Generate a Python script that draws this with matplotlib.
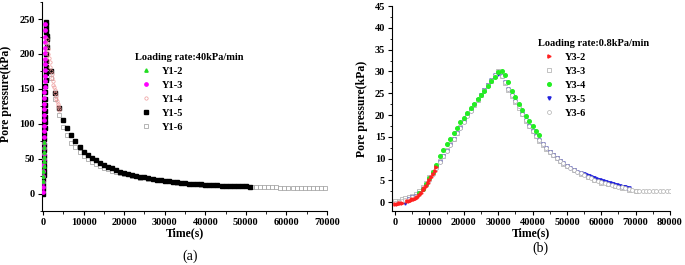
import matplotlib
matplotlib.use("Agg")
import matplotlib.pyplot as plt
import matplotlib.ticker as ticker

plt.rcParams["font.family"] = ["Liberation Serif", "DejaVu Serif"]
plt.rcParams["font.weight"] = "bold"

# ---------------- panel (a): loading rate 40 kPa/min ----------------
y12_t = [40, 70, 100, 130, 160, 190, 220, 250, 280]
y12_p = [18, 25, 32, 39, 46, 53, 60, 67, 74]

y13_t = [0, 20, 40, 60, 80, 100, 120, 140, 160, 180, 200, 220, 240, 260, 280, 300,
         320, 340, 360, 380, 400, 420, 440, 460, 480, 500, 520, 540, 560, 580, 600]
y13_p = [2, 9, 17, 25, 33, 41, 49, 57, 65, 73, 81, 89, 97, 105, 113, 121,
         129, 137, 145, 153, 161, 169, 177, 185, 193, 201, 209, 217, 225, 234, 243]

y14_t = [900, 1050, 1200, 1350, 1500, 1650, 1800, 1950, 2100, 2250, 2400, 2550,
         2700, 2850, 3000, 3150, 3300, 3450, 3600, 3750, 3900, 4050]
y14_p = [222, 214, 207, 200, 194, 188, 182, 176, 171, 166, 161, 156,
         152, 148, 144, 140, 136, 132, 129, 126, 123, 120]

y15_t = [0, 30, 60, 90, 120, 150, 180, 210, 240, 270, 300, 330, 360, 390, 420, 450,
         480, 510, 540, 570, 600, 630, 660, 690, 720, 800, 900,
         2000, 3000, 4000, 5000, 6000, 7000, 8000, 9000, 10000, 11000, 12000, 13000,
         14000, 15000, 16000, 17000, 18000, 19000, 20000, 21000, 22000, 23000, 24000,
         25000, 26000, 27000, 28000, 29000, 30000, 31000, 32000, 33000, 34000, 35000,
         36000, 37000, 38000, 39000, 40000, 41000, 42000, 43000, 44000, 45000, 46000,
         47000, 48000, 49000, 50000, 51000]
y15_p = [0, 6, 12, 19, 26, 33, 40, 47, 54, 62, 70, 78, 86, 94, 102, 110,
         118, 127, 136, 145, 154, 163, 172, 181, 190, 200, 210,
         175, 144, 122, 106, 93.5, 84, 76, 67, 60, 55, 51, 47.5,
         44, 41, 38.5, 36, 33.5, 31.5, 29.5, 28, 26.5, 25, 24,
         23, 22, 21, 20, 19, 18, 17.3, 16.6, 16, 15.4, 14.8,
         14.3, 13.8, 13.4, 13, 12.6, 12.3, 12, 11.7, 11.4, 11.2, 11,
         10.8, 10.6, 10.4, 10.2, 10]
# peak points of Y1-5 just after the rise
y15_peak_t = [720, 760, 800, 850, 900, 950]
y15_peak_p = [246, 241, 236, 231, 226, 221]

y16_t = [1000, 2000, 3000, 4000, 5000, 6000, 7000, 8000, 9000, 10000, 11000, 12000,
         13000, 14000, 15000, 16000, 17000, 18000, 19000, 20000, 22000, 24000, 26000,
         28000, 30000, 33000, 36000, 39000, 42000, 45000, 48000, 51500, 52500, 53500,
         54500, 55500, 56500, 57500, 58500, 59500, 60500, 61500, 62500, 63500, 64500,
         65500, 66500, 67500, 68500, 69500]
y16_p = [217, 166, 135, 112, 96, 83.5, 73, 66, 60, 54, 49.5, 45.5,
         42.5, 40, 37, 35, 33, 31, 29.5, 28, 25, 22.5, 20.5,
         19, 17.5, 15.5, 14, 12.8, 12, 11, 10.2, 9.5, 9.3, 9.2,
         9.0, 8.9, 8.8, 8.7, 8.6, 8.5, 8.4, 8.3, 8.2, 8.1, 8.0,
         7.9, 7.8, 7.7, 7.6, 7.5]

# ---------------- panel (b): loading rate 0.8 kPa/min ----------------
y32_t = [0, 500, 1000, 1500, 2000, 3500, 4000, 4500, 5000, 5500, 6000, 6500, 7000,
         7500, 8000, 8500, 9000, 9500, 10000, 10500, 11000, 11500, 12000]
y32_p = [-0.3, -0.3, -0.25, -0.2, -0.15, 0.3, 0.4, 0.55, 0.65, 0.8, 1.0, 1.3, 1.7,
         2.2, 2.7, 3.2, 3.8, 4.4, 5.0, 5.7, 6.4, 7.2, 8.1]

y33_t = [0, 1000, 2000, 3000, 4000, 5000, 6000, 7000, 8000, 9000, 10000, 11000,
         12000, 13000, 14000, 15000, 16000, 17000, 18000, 19000, 20000, 21000, 22000,
         23000, 24000, 25000, 26000, 27000, 28000, 29000, 30000, 31000, 32000, 33000,
         34000, 35000, 36000, 37000, 38000, 39000, 40000, 41000, 42000, 43000, 44000,
         45000, 46000, 47000, 48000, 49000, 50000, 52000, 54000, 56000, 58000, 60000,
         62000, 64000, 66000, 68000, 70000]
y33_p = [0.2, 0.4, 0.7, 0.9, 1.2, 1.5, 1.9, 2.5, 3.4, 4.5, 5.7, 6.9,
         8.2, 9.4, 10.7, 12.0, 13.3, 14.6, 15.9, 17.2, 18.6, 19.9, 21.1,
         22.3, 23.5, 24.6, 25.7, 26.8, 27.9, 29.0, 30.0, 28.9, 27.3, 25.8,
         24.3, 23.0, 21.7, 20.2, 18.7, 17.5, 16.3, 15.1, 14.1, 13.2, 12.3,
         11.5, 10.8, 10.1, 9.4, 8.8, 8.3, 7.3, 6.5, 5.8, 5.1, 4.5,
         4.1, 3.7, 3.3, 2.9, 2.6]

y34_t = [7000, 8000, 9000, 10000, 11000, 12000, 13000, 14000, 15000, 16000, 17000,
         18000, 19000, 20000, 21000, 22000, 23000, 24000, 25000, 26000, 27000, 28000,
         29000, 30000, 31000, 32000, 33000, 34000, 35000, 36000, 37000, 38000, 39000,
         40000, 41000, 42000]
y34_p = [2.2, 3.0, 4.2, 5.5, 7.0, 8.6, 10.5, 12.0, 13.3, 14.6, 15.9,
         17.1, 18.3, 19.3, 20.4, 21.5, 22.5, 23.6, 24.6, 25.6, 26.7, 27.8,
         28.8, 29.8, 30.0, 29.2, 27.6, 25.6, 24.2, 22.5, 21.2, 19.8, 18.7,
         17.6, 16.4, 15.4]

y35_t = [3000, 4000, 5000, 6000, 7000, 8000, 9000, 10000, 11000, 12000, 13000, 14000,
         15000, 16000, 17000, 18000, 19000, 20000, 21000, 22000, 23000, 24000, 25000,
         26000, 27000, 28000, 29000, 30000, 31000, 32000, 33000, 34000, 35000, 36000,
         37000, 38000, 39000, 40000, 41000, 42000, 43000, 44000, 45000, 46000, 47000,
         48000, 49000, 50000, 51000, 52000, 53000, 54000, 55000, 55500, 56000, 56500,
         57000, 57500, 58000, 58500, 59000, 59500, 60000, 60500, 61000, 61500, 62000,
         62500, 63000, 63500, 64000, 64500, 65000, 65500, 66000, 66500, 67000, 67500, 68000]
y35_p = [-0.1, 0.8, 1.1, 1.5, 2.1, 3.0, 4.0, 5.2, 6.5, 7.9, 9.2, 10.5,
         11.8, 13.1, 14.4, 15.8, 17.1, 18.5, 19.8, 21.0, 22.2, 23.4, 24.6,
         25.8, 26.9, 28.0, 29.1, 29.3, 29.0, 27.5, 26.0, 24.5, 23.2, 22.0,
         20.3, 18.8, 17.6, 16.4, 15.2, 14.2, 13.3, 12.4, 11.6, 10.9, 10.2,
         9.5, 8.9, 8.4, 7.9, 7.4, 7.0, 6.6, 6.4, 6.25, 6.1, 5.95,
         5.8, 5.65, 5.5, 5.35, 5.2, 5.05, 4.9, 4.8, 4.7, 4.6, 4.5,
         4.35, 4.2, 4.1, 4.0, 3.9, 3.8, 3.7, 3.6, 3.5, 3.4, 3.3, 3.2]

y36_t = [0, 1000, 2000, 3000, 4000, 5000, 6000, 7000, 8000, 9000, 10000, 11000,
         12000, 13000, 14000, 15000, 16000, 17000, 18000, 19000, 20000, 21000, 22000,
         23000, 24000, 25000, 26000, 27000, 28000, 29000, 30000, 31000, 32000, 33000,
         34000, 35000, 36000, 37000, 38000, 39000, 40000, 41000, 42000, 43000, 44000,
         45000, 46000, 47000, 48000, 49000, 50000, 51000, 52000, 53000, 54000, 55000,
         56000, 57000, 58000, 59000, 60000, 61000, 62000, 63000, 64000, 65000, 66000,
         67000, 68000, 69000, 70000, 71000, 72000, 73000, 74000, 75000, 76000, 77000,
         78000, 79000, 80000]
y36_p = [-0.15, 0.0, 0.3, 0.5, 0.8, 1.1, 1.5, 2.1, 3.0, 4.0, 5.2, 6.5,
         7.9, 9.2, 10.5, 11.8, 13.1, 14.4, 15.8, 17.1, 18.5, 19.8, 21.0,
         22.2, 23.4, 24.6, 25.8, 26.9, 28.0, 29.1, 30.2, 29.0, 27.5, 26.0,
         24.5, 23.2, 22.0, 20.3, 18.8, 17.6, 16.4, 15.2, 14.2, 13.3, 12.4,
         11.6, 10.9, 10.2, 9.5, 8.9, 8.4, 7.9, 7.4, 7.0, 6.6, 6.2,
         5.9, 5.5, 5.2, 4.9, 4.6, 4.4, 4.2, 4.0, 3.8, 3.6, 3.4,
         3.2, 3.0, 2.8, 2.6, 2.5, 2.5, 2.5, 2.5, 2.5, 2.5, 2.5,
         2.5, 2.5, 2.5]

TICK_FS = 7.5
LABEL_FS = 8.5
LEG_FS = 7.5


def style_axes(ax):
    for side in ("top", "right"):
        ax.spines[side].set_visible(False)
    for side in ("left", "bottom"):
        ax.spines[side].set_linewidth(0.8)
    ax.tick_params(which="major", direction="out", length=3, width=0.8,
                   labelsize=TICK_FS, pad=2)
    ax.tick_params(which="minor", direction="out", length=1.8, width=0.6)
    for lab in ax.get_xticklabels() + ax.get_yticklabels():
        lab.set_fontweight("bold")


def add_legend(ax, title, anchor):
    leg = ax.legend(loc="upper left", bbox_to_anchor=anchor, frameon=False,
                    title=title, numpoints=1, fontsize=LEG_FS,
                    handlelength=2.2, handletextpad=0.4, labelspacing=0.45,
                    borderpad=0, borderaxespad=0, alignment="left",
                    title_fontproperties={"weight": "bold", "size": LEG_FS})
    for t in leg.get_texts():
        t.set_fontweight("bold")
    return leg


fig = plt.figure(figsize=(6.85, 2.65), dpi=100)

# ---------- (a) ----------
ax1 = fig.add_axes([42 / 685, 54 / 265, 285 / 685, 209.4 / 265])
ax1.plot(y12_t, y12_p, ls="none", marker="^", ms=2.4, color="#22dd22",
         mec="#22dd22", label="Y1-2", zorder=4)
ax1.plot(y13_t, y13_p, ls="none", marker="o", ms=2.4, color="#ff00ff",
         mec="#ff00ff", label="Y1-3", zorder=3)
ax1.plot(y14_t, y14_p, ls="none", marker="o", ms=2.4, mfc="none",
         mec="#ee9999", mew=0.5, label="Y1-4", zorder=3)
ax1.plot(y15_t + y15_peak_t, y15_p + y15_peak_p, ls="none", marker="s", ms=2.4,
         color="black", label="Y1-5", zorder=2)
ax1.plot(y16_t, y16_p, ls="none", marker="s", ms=2.6, mfc="white",
         mec="#999999", mew=0.5, label="Y1-6", zorder=1)
ax1.set_xlim(-250, 70000)
ax1.set_ylim(-25, 275)
ax1.xaxis.set_major_locator(ticker.MultipleLocator(10000))
ax1.xaxis.set_minor_locator(ticker.MultipleLocator(5000))
ax1.yaxis.set_major_locator(ticker.MultipleLocator(50))
ax1.yaxis.set_minor_locator(ticker.MultipleLocator(25))
ax1.set_yticks([0, 50, 100, 150, 200, 250])
style_axes(ax1)
ax1.set_xlabel("Time(s)", fontsize=LABEL_FS, fontweight="bold", labelpad=0)
ax1.set_ylabel("Pore pressure(kPa)", fontsize=LABEL_FS, fontweight="bold")
ax1.yaxis.set_label_coords(-0.105, 0.56)
add_legend(ax1, "Loading rate:40kPa/min", (0.326, 0.755))

# ---------- (b) ----------
ax2 = fig.add_axes([392 / 685, 54 / 265, 278 / 685, 205 / 265])
ax2.plot(y32_t, y32_p, ls="none", marker=">", ms=2.3, color="#ff2020",
         mec="#ff2020", label="Y3-2", zorder=5)
ax2.plot(y33_t, y33_p, ls="none", marker="s", ms=2.6, mfc="white",
         mec="#aaaaaa", mew=0.5, label="Y3-3", zorder=1)
ax2.plot(y34_t, y34_p, ls="none", marker="o", ms=2.6, color="#22ee22",
         mec="#22ee22", label="Y3-4", zorder=4)
ax2.plot(y35_t, y35_p, ls="none", marker="v", ms=2.3, color="#2222dd",
         mec="#2222dd", label="Y3-5", zorder=2)
ax2.plot(y36_t, y36_p, ls="none", marker="o", ms=2.8, mfc="white",
         mec="#b0b0b0", mew=0.5, label="Y3-6", zorder=3)
ax2.set_xlim(-900, 80000)
ax2.set_ylim(-2, 45)
ax2.xaxis.set_major_locator(ticker.MultipleLocator(10000))
ax2.xaxis.set_minor_locator(ticker.MultipleLocator(5000))
ax2.yaxis.set_major_locator(ticker.MultipleLocator(5))
ax2.yaxis.set_minor_locator(ticker.MultipleLocator(2.5))
ax2.set_yticks(list(range(0, 50, 5)))
style_axes(ax2)
ax2.set_xlabel("Time(s)", fontsize=LABEL_FS, fontweight="bold", labelpad=0)
ax2.set_ylabel("Pore pressure(kPa)", fontsize=LABEL_FS, fontweight="bold")
ax2.yaxis.set_label_coords(-0.085, 0.5)
add_legend(ax2, "Loading rate:0.8kPa/min", (0.525, 0.84))

fig.text(190 / 685, 1 - 256 / 265, "(a)", ha="center", va="center",
         fontsize=10, fontweight="normal")
fig.text(540 / 685, 1 - 248 / 265, "(b)", ha="center", va="center",
         fontsize=10, fontweight="normal")

fig.savefig("out.png", dpi=100)
